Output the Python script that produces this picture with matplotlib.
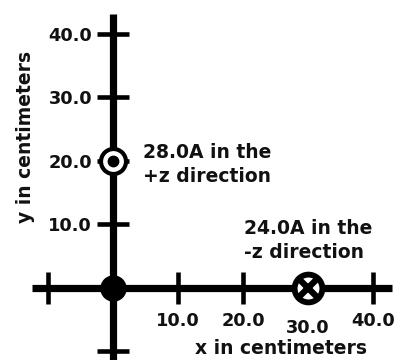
import matplotlib.pyplot as plt
from matplotlib.transforms import ScaledTranslation

# wires: position (cm), current (A), direction
wire_x = [0.0, 30.0]
wire_y = [20.0, 0.0]
wire_amps = [28.0, 24.0]
wire_dirs = ["+z", "-z"]

# field point at the origin
point_x = [0.0]
point_y = [0.0]

x_ticks = [-10, 10, 20, 30, 40]
x_tick_labels = ["", "10.0", "20.0", "30.0", "40.0"]
y_ticks = [-10, 10, 20, 30, 40]
y_tick_labels = ["", "10.0", "20.0", "30.0", "40.0"]

plt.rcParams["font.family"] = ["DejaVu Sans"]
plt.rcParams["font.weight"] = "bold"

fig = plt.figure(figsize=(3.98, 3.6), dpi=100)
ax = fig.add_axes([0, 0, 1, 1])
ax.set_xlim(-17.38, 43.85)
ax.set_ylim(-11.34, 45.35)

# axes drawn as spines through the origin
for side in ("top", "right"):
    ax.spines[side].set_visible(False)
ax.spines["left"].set_position(("data", 0))
ax.spines["bottom"].set_position(("data", 0))
ax.spines["left"].set_bounds(-11.34, 43.1)
ax.spines["bottom"].set_bounds(-12.5, 42.9)
for side in ("left", "bottom"):
    ax.spines[side].set_linewidth(5.2)
    ax.spines[side].set_capstyle("butt")

ax.set_xticks(x_ticks, x_tick_labels)
ax.set_yticks(y_ticks, y_tick_labels)
ax.tick_params(direction="inout", length=23, width=3.3, labelsize=12.8, pad=3.5)
ax.tick_params(axis="x", pad=5.5)
for lab in ax.get_xticklabels() + ax.get_yticklabels():
    lab.set_fontweight("bold")
    lab.set_color("#111111")
# the 30.0 label sits a bit lower, below the wire marker
lab30 = ax.xaxis.get_major_ticks()[3].label1
lab30.set_transform(lab30.get_transform() + ScaledTranslation(0, -0.07, fig.dpi_scale_trans))

# field point
ax.plot(point_x, point_y, "o", color="black", ms=18, zorder=5, clip_on=False)

# +z wire: dot in a circle
ax.plot(wire_x[0], wire_y[0], "o", mfc="white", mec="black", ms=18, mew=3, zorder=5)
ax.plot(wire_x[0], wire_y[0], "o", color="black", ms=7.5, zorder=6)
# -z wire: cross in a circle
ax.plot(wire_x[1], wire_y[1], "o", mfc="white", mec="black", ms=20, mew=4.2, zorder=5)
ax.plot(wire_x[1], wire_y[1], "x", color="black", ms=13, mew=4.5, zorder=6)

offsets = [(21.5, 13), (-46, 50)]
for x, y, amps, d, off in zip(wire_x, wire_y, wire_amps, wire_dirs, offsets):
    ax.annotate(f"{amps:.1f}A in the\n{d} direction", (x, y), xytext=off,
                textcoords="offset points", ha="left", va="top",
                fontsize=13.5, fontweight="bold", linespacing=1.35, color="#111111")

ax.text(0.706, 0.031, "x in centimeters", transform=ax.transAxes, ha="center",
        va="center", fontsize=13.5, fontweight="bold", color="#111111")
ax.text(0.063, 0.619, "y in centimeters", transform=ax.transAxes, ha="center",
        va="center", rotation=90, fontsize=13.5, fontweight="bold", color="#111111")

fig.savefig("out.png", dpi=100)
